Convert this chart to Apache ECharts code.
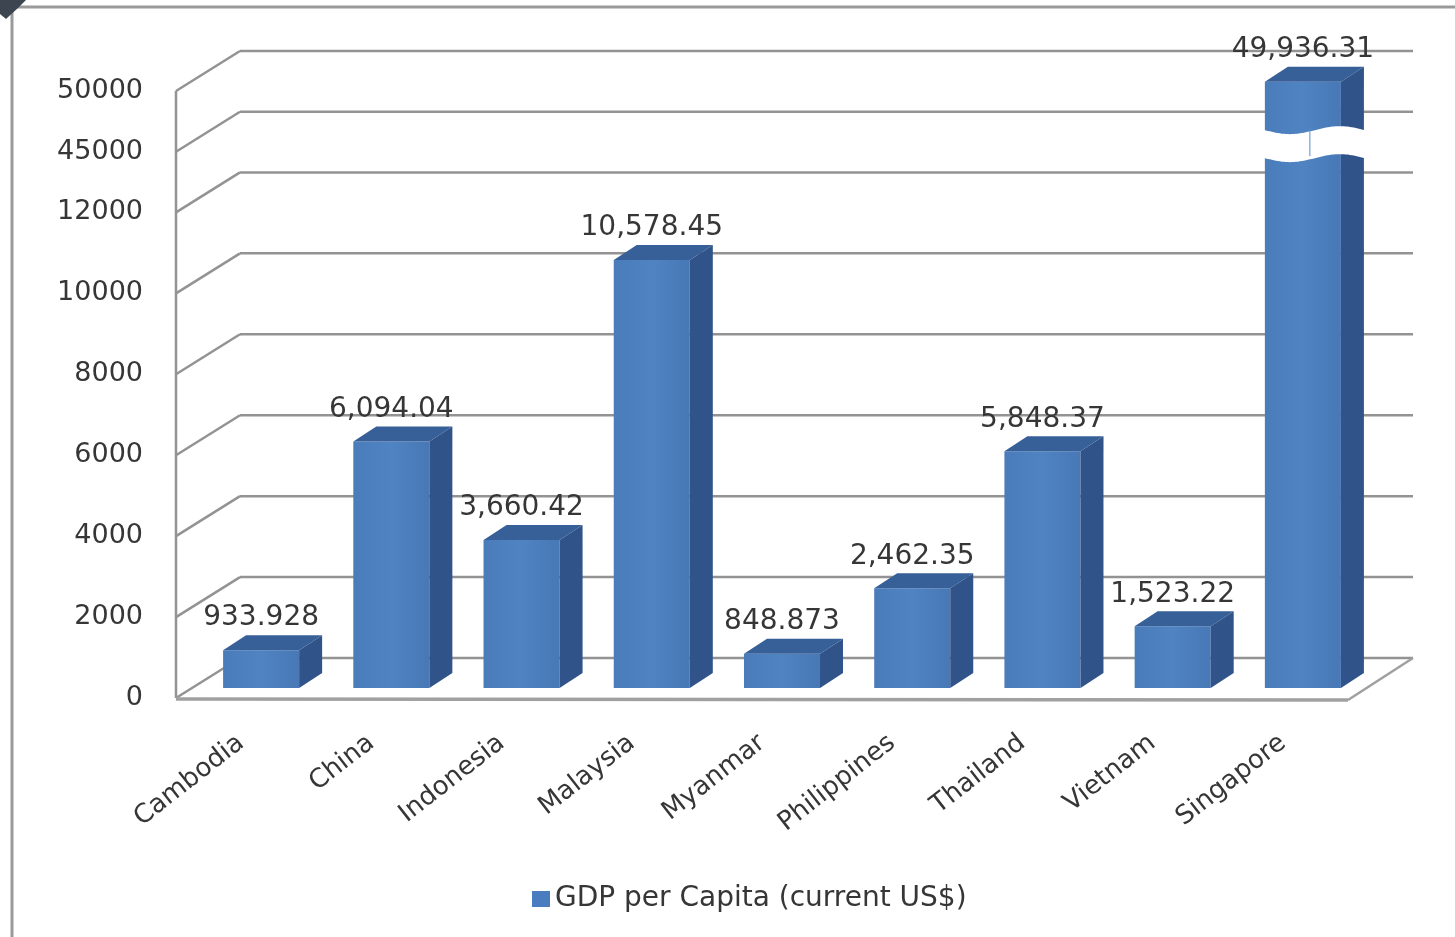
<!DOCTYPE html>
<html>
<head>
<meta charset="utf-8">
<script src="https://cdn.jsdelivr.net/npm/echarts@6/dist/echarts.min.js"></script>
<style>html,body{margin:0;padding:0;background:#fff;}#c{width:1455px;height:937px;}</style>
</head>
<body>
<div id="c"></div>
<script>
// ---- data ----
const categories = ['Cambodia','China','Indonesia','Malaysia','Myanmar','Philippines','Thailand','Vietnam','Singapore'];
const gdpValues = [933.928, 6094.04, 3660.42, 10578.45, 848.873, 2462.35, 5848.37, 1523.22, 49936.31];
const valueLabels = ['933.928','6,094.04','3,660.42','10,578.45','848.873','2,462.35','5,848.37','1,523.22','49,936.31'];
const tickValues = [0, 2000, 4000, 6000, 8000, 10000, 12000, 45000, 50000];
const tickLabels = ['0','2000','4000','6000','8000','10000','12000','45000','50000'];
const seriesName = 'GDP per Capita (current US$)';

// broken axis: value -> axis units (piecewise linear)
const breakPts = [[0,0],[12000,6],[45000,6.75],[50000,7.5]];
function toAxis(v){
  for (let i=1;i<breakPts.length;i++){
    const a=breakPts[i-1], b=breakPts[i];
    if (v<=b[0] || i===breakPts.length-1) return a[1]+(v-a[0])*(b[1]-a[1])/(b[0]-a[0]);
  }
}
const tickPos = tickValues.map(toAxis);

const FONT = 'DejaVu Sans';
const TXT = '#363636';
const GRIDC = '#939393';
const DEPTH = [64,-40];      // wall depth
const BOFF = [20,-10];        // bar plane offset from front plane
const BDEP = [23,-15];        // bar depth

const chart = echarts.init(document.getElementById('c'), null, {renderer:'canvas'});

function seg(x1,y1,x2,y2,color,lw){
  return {type:'line', shape:{x1:x1,y1:y1,x2:x2,y2:y2}, style:{stroke:color,lineWidth:lw,fill:null}};
}

function wallItem(params, api){
  const t = api.value(1);
  const p = api.coord([0, t]);
  const cs = params.coordSys;
  const L = cs.x, R = cs.x + cs.width, y = p[1];
  const ch = [];
  ch.push(seg(L,y,L+DEPTH[0],y+DEPTH[1],GRIDC,2.5));
  ch.push(seg(L+DEPTH[0],y+DEPTH[1],R+DEPTH[0]+1,y+DEPTH[1],GRIDC,2.5));
  if (params.dataIndex === 0){
    ch.push(seg(L,y,L,cs.y,GRIDC,2.5));
    ch.push(seg(L,y+1,R,y+2,'#a0a0a0',3.5));
    ch.push(seg(R,y+2,R+DEPTH[0]+1,y+DEPTH[1],'#a0a0a0',2.5));
  }
  return {type:'group', children:ch};
}

function barItem(params, api){
  const idx = api.value(0), raw = api.value(1);
  const t = toAxis(raw);
  const base = api.coord([idx, 0]);
  const top = api.coord([idx, t]);
  const band = api.size([1,0])[0];
  const w = band*0.584;
  const cx = base[0] + BOFF[0];
  const yb = base[1] + BOFF[1], yt = top[1] + BOFF[1];
  const x0 = cx - w/2, x1 = cx + w/2;
  const dx = BDEP[0], dy = BDEP[1];
  const ch = [];
  ch.push({type:'rect', shape:{x:x0,y:yt,width:w,height:yb-yt}, style:{fill:new echarts.graphic.LinearGradient(0,0,1,0,[{offset:0,color:'#4a7cba'},{offset:0.5,color:'#4f83c2'},{offset:1,color:'#4878b6'}])}});
  ch.push({type:'polygon', shape:{points:[[x1,yb],[x1+dx,yb+dy],[x1+dx,yt+dy],[x1,yt]]}, style:{fill:'#30538a'}});
  ch.push({type:'polygon', shape:{points:[[x0,yt],[x1,yt],[x1+dx,yt+dy],[x0+dx,yt+dy]]}, style:{fill:'#375f98'}});
  if (raw > breakPts[1][0]){
    const yc = api.coord([idx, 6.72])[1] + BOFF[1];
    const xs = x0 - 5, xe = x1 + dx + 3, W = 100, A = 4, H = 28;
    const topPts = [], botPts = [];
    for (let x = xs; x <= xe + 0.01; x += 2){
      const s = A*Math.sin(2*Math.PI*(x - x0)/W);
      topPts.push([x, yc - H/2 + s]);
      botPts.push([x, yc + H/2 + s]);
    }
    ch.push({type:'polygon', shape:{points: topPts.concat(botPts.reverse())}, style:{fill:'#ffffff'}});
    ch.push(seg(x0+45,yc-H/2-2,x0+45,yc+H/2-2,'#5a8ccc',1));
  }
  ch.push({type:'text', style:{x:cx, y:yt-32, text:valueLabels[params.dataIndex], fill:TXT, font:'28px "'+FONT+'"', align:'center', verticalAlign:'middle'}});
  return {type:'group', children:ch};
}

const option = {
  backgroundColor:'#ffffff',
  animation:false,
  grid:{left:176, top:91, width:1172, height:607, containLabel:false},
  xAxis:{type:'category', data:categories, boundaryGap:true,
    axisLine:{show:false}, axisTick:{show:false}, splitLine:{show:false},
    axisLabel:{interval:0, rotate:38, margin:42, fontSize:26, color:TXT, fontFamily:FONT}},
  yAxis:{type:'value', min:0, max:7.5, interval:0.25,
    axisLine:{show:false}, axisTick:{show:false}, splitLine:{show:false},
    axisLabel:{margin:33, fontSize:27, color:TXT, fontFamily:FONT, padding:[5,0,0,0],
      formatter:function(v){ for (let i=0;i<tickPos.length;i++){ if (Math.abs(tickPos[i]-v)<1e-6) return tickLabels[i]; } return ''; }}},
  legend:{show:true, left:527, top:880, itemWidth:18, itemHeight:16, itemGap:10,
    data:[{name:seriesName, icon:'rect', itemStyle:{color:'#4a7dbf'}}],
    textStyle:{fontSize:28, color:TXT, fontFamily:FONT}, selectedMode:false},
  graphic:[
    {type:'line', shape:{x1:12,y1:7,x2:1455,y2:7}, style:{stroke:'#9a9a9a',lineWidth:3}},
    {type:'line', shape:{x1:12,y1:7,x2:12,y2:937}, style:{stroke:'#9a9a9a',lineWidth:3}},
    {type:'polygon', shape:{points:[[0,0],[26,0],[18,8],[6,19],[0,14]]}, style:{fill:'#3d4650'}}
  ],
  series:[
    {name:'walls', type:'custom', coordinateSystem:'cartesian2d', z:1, silent:true,
      data: tickPos.map(t=>[0,t]), renderItem: wallItem},
    {name:seriesName, type:'custom', coordinateSystem:'cartesian2d', z:2,
      itemStyle:{color:'#4a7dbf'},
      data: gdpValues.map((v,i)=>[i,v]), renderItem: barItem}
  ]
};
chart.setOption(option);
</script>
</body>
</html>
